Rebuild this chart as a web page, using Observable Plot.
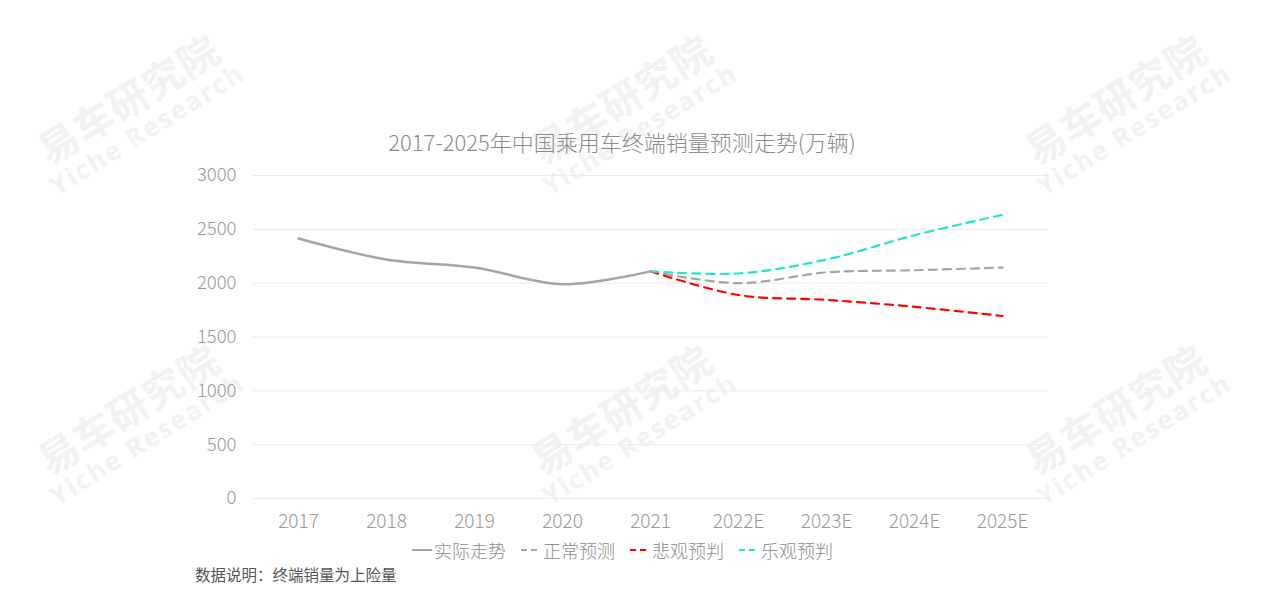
<!DOCTYPE html>
<html>
<head>
<meta charset="utf-8">
<script src="https://cdn.jsdelivr.net/npm/d3@7"></script>
<script src="https://cdn.jsdelivr.net/npm/@observablehq/plot@0.6"></script>
<style>
  html, body { margin: 0; padding: 0; background: #fff; }
  body { width: 1269px; height: 593px; position: relative; overflow: hidden;
         font-family: "Noto Sans CJK SC", "Noto Sans", sans-serif; }
  #title { position: absolute; left: 0; width: 1244px; top: 125px; height: 32px; line-height: 32px;
           text-align: center; font-size: 22px; color: #8c8c8c; font-weight: 300; }
  #chart { position: absolute; left: 0; top: 156px; }
  #legend { position: absolute; left: 0; width: 1244px; top: 538px; height: 24px; display: flex;
            justify-content: center; align-items: center; font-size: 18px; color: #8c8c8c; font-weight: 300; }
  #legend .item { display: flex; align-items: center; margin: 0 7px; }
  #legend svg { margin-right: 1px; }
  #note { position: absolute; left: 195px; top: 563px; font-size: 15.5px; color: #555; }
  .wm { position: absolute; transform: rotate(-32deg); transform-origin: center; color: #f2f2f2;
        font-weight: bold; white-space: nowrap; text-align: center; pointer-events: none; }
  .wm .cn { font-size: 40px; line-height: 44px; letter-spacing: 1px; }
  .wm .en { font-size: 26px; line-height: 28px; font-family: "Open Sans", "DejaVu Sans", sans-serif; letter-spacing: 2px; }
  #chart svg text { font-weight: 300; }
</style>
</head>
<body>
<div id="wms"></div>
<div id="title">2017-2025年中国乘用车终端销量预测走势(万辆)</div>
<div id="chart"></div>
<div id="legend"></div>
<div id="note">数据说明：终端销量为上险量</div>
<script>
const years = ["2017", "2018", "2019", "2020", "2021", "2022E", "2023E", "2024E", "2025E"];
const actualYears = ["2017", "2018", "2019", "2020", "2021"];
const actualValues = [2415, 2220, 2145, 1990, 2110];
const forecastYears = ["2021", "2022E", "2023E", "2024E", "2025E"];
const normalValues = [2110, 2000, 2100, 2120, 2145];
const pessimisticValues = [2110, 1890, 1845, 1780, 1695];
const optimisticValues = [2110, 2090, 2220, 2445, 2635];
const yTicks = [0, 500, 1000, 1500, 2000, 2500, 3000];
const seriesNames = ["实际走势", "正常预测", "悲观预判", "乐观预判"];
const seriesColors = ["#a5a5a9", "#a5a5a9", "#ff0000", "#1ee8c8"];
const seriesDash = [null, "8,6", "8,6", "8,6"];

// watermarks
const wmPos = [[135, 110], [628, 110], [1122, 110], [135, 420], [628, 420], [1122, 420]];
const wms = document.getElementById("wms");
wmPos.forEach(([cx, cy]) => {
  const d = document.createElement("div");
  d.className = "wm";
  d.innerHTML = '<div class="cn">易车研究院</div><div class="en">Yiche Research</div>';
  d.style.left = (cx - 130) + "px";
  d.style.top = (cy - 36) + "px";
  d.style.width = "260px";
  wms.appendChild(d);
});

const rows = (xs, vs, s) => xs.map((x, i) => ({x, y: vs[i], s}));
const actual = rows(actualYears, actualValues, seriesNames[0]);
const normal = rows(forecastYears, normalValues, seriesNames[1]);
const pess = rows(forecastYears, pessimisticValues, seriesNames[2]);
const opt = rows(forecastYears, optimisticValues, seriesNames[3]);

const chart = Plot.plot({
  width: 1269,
  height: 380,
  marginLeft: 252,
  marginRight: 221,
  marginTop: 19,
  marginBottom: 38,
  style: { fontFamily: '"Noto Sans CJK SC", "Noto Sans", sans-serif', fontSize: "19px", color: "#999", background: "transparent" },
  x: { type: "point", domain: years, padding: 0.5, label: null },
  y: { domain: [0, 3000], label: null },
  marks: [
    Plot.ruleY(yTicks, { stroke: "#ececec", strokeWidth: 1 }),
    Plot.axisX({ tickSize: 0, tickPadding: 16, fontSize: 19, label: null }),
    Plot.axisY({ ticks: yTicks, tickFormat: d => String(d), tickSize: 0, tickPadding: 16, fontSize: 18.5, label: null }),
    Plot.line(normal, { x: "x", y: "y", stroke: seriesColors[1], strokeWidth: 2.2, strokeDasharray: seriesDash[1], curve: "catmull-rom" }),
    Plot.line(pess, { x: "x", y: "y", stroke: seriesColors[2], strokeWidth: 2.2, strokeDasharray: seriesDash[2], curve: "catmull-rom" }),
    Plot.line(opt, { x: "x", y: "y", stroke: seriesColors[3], strokeWidth: 2.2, strokeDasharray: seriesDash[3], curve: "catmull-rom" }),
    Plot.line(actual, { x: "x", y: "y", stroke: seriesColors[0], strokeWidth: 2.4, curve: "catmull-rom" })
  ]
});
document.getElementById("chart").appendChild(chart);

// legend
const legend = document.getElementById("legend");
seriesNames.forEach((name, i) => {
  const it = document.createElement("div");
  it.className = "item";
  const dash = seriesDash[i] ? 'stroke-dasharray="6,4"' : '';
  it.innerHTML = `<svg width="22" height="10"><line x1="1" y1="5" x2="21" y2="5" stroke="${seriesColors[i]}" stroke-width="2" ${dash}/></svg><span>${name}</span>`;
  legend.appendChild(it);
});
</script>
</body>
</html>
